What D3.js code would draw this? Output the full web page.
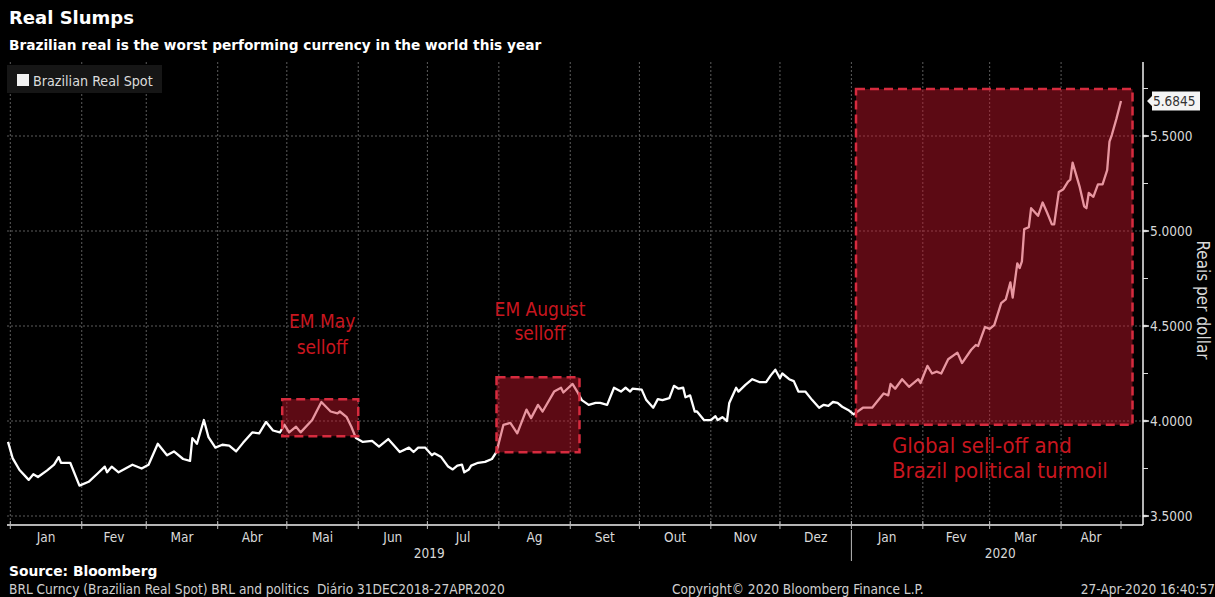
<!DOCTYPE html>
<html lang="en">
<head>
    <meta charset="UTF-8">
    <title>Real Slumps</title>
    <script src="https://d3js.org/d3.v7.min.js"></script>
    <style>
        body {
            margin: 0;
            background: #000;
        }
        svg text {
            font-family: "DejaVu Sans Condensed", "DejaVu Sans", sans-serif;
        }
        .title {
            font-family: "DejaVu Sans", sans-serif !important;
            font-weight: bold;
            fill: #fff;
        }
        .grid line {
            stroke: #5c5c5c;
            stroke-dasharray: 2,2;
        }
        .tick-label {
            fill: #d9d9d9;
            font-size: 13.5px;
        }
        .note {
            fill: #c8161f;
        }
        .foot {
            fill: #cfcfcf;
            font-size: 13.6px;
            white-space: pre;
        }
    </style>
</head>
<body>
    <div id="chart"></div>
    <script>
        // BRL spot
        const dates = [
            "2018-12-31","2019-01-02","2019-01-05","2019-01-09","2019-01-11","2019-01-13","2019-01-17","2019-01-20",
            "2019-01-22","2019-01-23","2019-01-27","2019-01-31","2019-02-04","2019-02-08","2019-02-11","2019-02-12",
            "2019-02-14","2019-02-17","2019-02-20","2019-02-23","2019-02-27","2019-03-02","2019-03-06","2019-03-10",
            "2019-03-13","2019-03-17","2019-03-20","2019-03-21","2019-03-23","2019-03-26","2019-03-28","2019-03-31",
            "2019-04-03","2019-04-06","2019-04-09","2019-04-12","2019-04-16","2019-04-19","2019-04-22","2019-04-25",
            "2019-04-28","2019-04-30","2019-05-02","2019-05-05","2019-05-07","2019-05-12","2019-05-16","2019-05-20",
            "2019-05-23","2019-05-24","2019-05-27","2019-05-29","2019-05-31","2019-06-03","2019-06-07","2019-06-10",
            "2019-06-14","2019-06-17","2019-06-19","2019-06-23","2019-06-25","2019-06-27","2019-06-30","2019-07-03",
            "2019-07-04","2019-07-07","2019-07-10","2019-07-12","2019-07-14","2019-07-16","2019-07-17","2019-07-19",
            "2019-07-20","2019-07-23","2019-07-26","2019-07-29","2019-07-31","2019-08-03","2019-08-06","2019-08-09",
            "2019-08-13","2019-08-15","2019-08-18","2019-08-20","2019-08-25","2019-08-28","2019-08-29","2019-09-02",
            "2019-09-04","2019-09-06","2019-09-09","2019-09-12","2019-09-14","2019-09-17","2019-09-20","2019-09-23",
            "2019-09-25","2019-09-27","2019-09-28","2019-10-02","2019-10-04","2019-10-07","2019-10-09","2019-10-11",
            "2019-10-14","2019-10-16","2019-10-18","2019-10-20","2019-10-21","2019-10-23","2019-10-25","2019-10-26",
            "2019-10-29","2019-11-01","2019-11-03","2019-11-04","2019-11-06","2019-11-08","2019-11-09","2019-11-12",
            "2019-11-13","2019-11-16","2019-11-19","2019-11-22","2019-11-25","2019-11-27","2019-11-29","2019-12-01",
            "2019-12-02","2019-12-05","2019-12-07","2019-12-09","2019-12-12","2019-12-15","2019-12-18","2019-12-20",
            "2019-12-22","2019-12-24","2019-12-26","2019-12-28","2019-12-31","2020-01-02","2020-01-06","2020-01-10",
            "2020-01-12","2020-01-15","2020-01-17","2020-01-18","2020-01-20","2020-01-23","2020-01-26","2020-01-30",
            "2020-01-31","2020-02-03","2020-02-05","2020-02-07","2020-02-09","2020-02-12","2020-02-16","2020-02-18",
            "2020-02-22","2020-02-24","2020-02-25","2020-02-28","2020-03-01","2020-03-03","2020-03-06","2020-03-08",
            "2020-03-10","2020-03-11","2020-03-13","2020-03-14","2020-03-15","2020-03-16","2020-03-18","2020-03-19",
            "2020-03-22","2020-03-24","2020-03-26","2020-03-28","2020-03-29","2020-03-31","2020-04-02","2020-04-04",
            "2020-04-05","2020-04-06","2020-04-09","2020-04-11","2020-04-12","2020-04-13","2020-04-15","2020-04-17",
            "2020-04-19","2020-04-21","2020-04-22","2020-04-23","2020-04-25","2020-04-27"
        ];
        const brl = [
            3.890,3.805,3.742,3.690,3.720,3.705,3.740,3.770,
            3.810,3.780,3.780,3.660,3.680,3.725,3.760,3.730,
            3.760,3.730,3.750,3.770,3.750,3.770,3.880,3.820,
            3.840,3.800,3.790,3.910,3.880,4.005,3.915,3.860,
            3.875,3.870,3.840,3.885,3.940,3.935,3.995,3.950,
            3.940,3.980,3.940,3.970,3.940,4.005,4.100,4.050,
            4.040,4.050,4.020,3.970,3.910,3.890,3.895,3.865,
            3.905,3.865,3.837,3.860,3.837,3.860,3.860,3.820,
            3.830,3.810,3.760,3.745,3.765,3.770,3.730,3.745,
            3.765,3.780,3.785,3.800,3.837,3.980,3.990,3.935,
            4.060,4.015,4.085,4.050,4.155,4.175,4.150,4.195,
            4.155,4.110,4.085,4.095,4.095,4.085,4.175,4.155,
            4.175,4.155,4.170,4.165,4.110,4.070,4.115,4.110,
            4.120,4.185,4.170,4.175,4.125,4.135,4.050,4.050,
            4.005,4.005,4.025,4.005,4.020,4.000,4.095,4.175,
            4.155,4.190,4.220,4.205,4.205,4.240,4.270,4.225,
            4.250,4.220,4.210,4.155,4.155,4.110,4.070,4.085,
            4.080,4.100,4.095,4.075,4.055,4.035,4.070,4.070,
            4.100,4.145,4.135,4.195,4.170,4.220,4.180,4.220,
            4.200,4.290,4.250,4.260,4.250,4.325,4.360,4.305,
            4.375,4.400,4.395,4.495,4.485,4.505,4.620,4.640,
            4.730,4.650,4.830,4.805,4.840,5.010,5.020,5.120,
            5.080,5.150,5.095,5.035,5.035,5.205,5.220,5.260,
            5.270,5.360,5.235,5.130,5.120,5.200,5.180,5.245,
            5.245,5.320,5.470,5.505,5.590,5.6845
        ];

        const monthNames = ["Jan","Fev","Mar","Abr","Mai","Jun","Jul","Ag","Set","Out","Nov","Dez"];
        const yTicks = [3.5, 4.0, 4.5, 5.0, 5.5];
        const yMinor = [3.75, 4.25, 4.75, 5.25, 5.75];
        const years = [2019, 2020];

        // shaded episodes
        const boxStart = ["2019-04-29", "2019-07-31", "2020-01-03"];
        const boxEnd   = ["2019-06-01", "2019-09-05", "2020-05-02"];
        const boxHigh  = [4.115, 4.23, 5.747];
        const boxLow   = [3.92, 3.835, 3.98];
        const boxNotes = [["EM May", "selloff"], ["EM August", "selloff"],
                          ["Global sell-off and", "Brazil political turmoil"]];

        const parse = d3.timeParse("%Y-%m-%d");
        const data = dates.map((d, i) => ({date: parse(d), value: brl[i]}));

        const W = 1215, H = 597;
        const svg = d3.select("#chart").append("svg")
            .attr("width", W)
            .attr("height", H);

        svg.append("rect").attr("width", W).attr("height", H).attr("fill", "#000");

        const x = d3.scaleTime()
            .domain([parse("2018-12-31"), parse("2020-04-27")])
            .range([8, 1121]);
        const y = d3.scaleLinear()
            .domain([3.5, 5.5])
            .range([516, 136]);

        const plotLeft = 7, plotRight = 1143, plotTop = 62, plotBottom = 525;

        // titles
        svg.append("text").attr("class", "title")
            .attr("x", 9).attr("y", 24)
            .style("font-size", "18px")
            .text("Real Slumps");
        svg.append("text").attr("class", "title")
            .attr("x", 9).attr("y", 50)
            .style("font-size", "13.7px")
            .text("Brazilian real is the worst performing currency in the world this year");

        // grid
        const months = d3.timeMonth.range(parse("2019-01-01"), parse("2020-04-02"));
        const grid = svg.append("g").attr("class", "grid");
        grid.selectAll(".v").data(months).enter().append("line")
            .attr("x1", d => x(d)).attr("x2", d => x(d))
            .attr("y1", plotTop).attr("y2", plotBottom);
        grid.selectAll(".h").data(yTicks).enter().append("line")
            .attr("x1", plotLeft).attr("x2", plotRight)
            .attr("y1", d => y(d)).attr("y2", d => y(d));

        // legend
        svg.append("rect").attr("x", 7).attr("y", 65).attr("width", 155).attr("height", 28).attr("fill", "#161616");
        svg.append("rect").attr("x", 17).attr("y", 74).attr("width", 12).attr("height", 12).attr("fill", "#f2f2f2");
        svg.append("text").attr("x", 33).attr("y", 85.5)
            .attr("fill", "#dcdcdc").style("font-size", "14.2px")
            .text("Brazilian Real Spot");

        // line
        const line = d3.line()
            .x(d => x(d.date))
            .y(d => y(d.value));
        svg.append("path")
            .datum(data)
            .attr("fill", "none")
            .attr("stroke", "#fff")
            .attr("stroke-width", 2.3)
            .attr("stroke-linejoin", "round")
            .attr("d", line);

        // shaded boxes on top of the line
        boxStart.forEach((s, i) => {
            const x0 = x(parse(s)), x1 = x(parse(boxEnd[i]));
            const y0 = y(boxHigh[i]), y1 = y(boxLow[i]);
            svg.append("rect")
                .attr("x", x0).attr("y", y0)
                .attr("width", x1 - x0).attr("height", y1 - y0)
                .attr("fill", "rgba(205,22,45,0.45)")
                .attr("stroke", "#d62b3e")
                .attr("stroke-width", 2.5)
                .attr("stroke-dasharray", "9,5");
        });

        // annotations
        const notePos = [
            {cx: true, dy: [-71, -45], size: 19},
            {cx: true, dy: [-61, -37], size: 19},
            {cx: false, dy: [0, 0], size: 22}
        ];
        boxNotes.forEach((lines, i) => {
            const x0 = x(parse(boxStart[i])), x1 = x(parse(boxEnd[i]));
            const yt = y(boxHigh[i]), yb = y(boxLow[i]);
            lines.forEach((t, j) => {
                const el = svg.append("text").attr("class", "note")
                    .style("font-size", notePos[i].size + "px").text(t);
                if (notePos[i].cx) {
                    el.attr("x", (x0 + x1) / 2 + 2).attr("y", yt + notePos[i].dy[j])
                      .attr("text-anchor", "middle");
                } else {
                    el.attr("x", x0 + 36).attr("y", yb + 28 + j * 25);
                }
            });
        });

        // bottom axis
        svg.append("line")
            .attr("x1", plotLeft).attr("x2", plotRight)
            .attr("y1", plotBottom).attr("y2", plotBottom)
            .attr("stroke", "#f0f0f0").attr("stroke-width", 1.5);
        svg.selectAll(".xt").data(months.concat([x.domain()[1]])).enter().append("line")
            .attr("x1", d => x(d)).attr("x2", d => x(d))
            .attr("y1", plotBottom - 4).attr("y2", plotBottom + 4)
            .attr("stroke", "#bbb");
        svg.selectAll(".xl").data(months).enter().append("text")
            .attr("class", "tick-label")
            .attr("text-anchor", "middle")
            .attr("x", d => {
                const next = d3.min([d3.timeMonth.offset(d, 1), x.domain()[1]]);
                return (x(d) + x(next)) / 2;
            })
            .attr("y", 542)
            .text(d => monthNames[d.getMonth()]);

        // years
        const yearSplit = x(parse("2020-01-01"));
        svg.append("line")
            .attr("x1", yearSplit).attr("x2", yearSplit)
            .attr("y1", 530).attr("y2", 561)
            .attr("stroke", "#bbb");
        svg.selectAll(".yr").data(years).enter().append("text")
            .attr("class", "tick-label")
            .attr("text-anchor", "middle")
            .attr("x", d => d === 2019 ? (plotLeft + yearSplit) / 2 : (yearSplit + plotRight) / 2 + 3)
            .attr("y", 558)
            .text(d => d);

        // right axis
        svg.append("line")
            .attr("x1", plotRight).attr("x2", plotRight)
            .attr("y1", plotTop).attr("y2", plotBottom)
            .attr("stroke", "#f0f0f0").attr("stroke-width", 1.5);
        svg.selectAll(".ym").data(yMinor).enter().append("line")
            .attr("x1", plotRight).attr("x2", plotRight + 5)
            .attr("y1", d => y(d)).attr("y2", d => y(d))
            .attr("stroke", "#ddd");
        svg.selectAll(".ya").data(yTicks).enter().append("path")
            .attr("d", d => `M${plotRight},${y(d) - 0.7}h3l3,0.7l-3,0.7h-3z`)
            .attr("fill", "#eee").attr("stroke", "#eee").attr("stroke-width", 0.8);
        svg.selectAll(".yl").data(yTicks).enter().append("text")
            .attr("class", "tick-label")
            .attr("x", plotRight + 7).attr("y", d => y(d) + 5)
            .text(d => d3.format(".4f")(d));

        svg.append("text")
            .attr("transform", "translate(1197,300) rotate(90)")
            .attr("text-anchor", "middle")
            .attr("fill", "#d9d9d9").style("font-size", "17px")
            .text("Reais per dollar");

        // last value tag
        const last = data[data.length - 1];
        const ly = y(last.value);
        svg.append("path")
            .attr("d", `M${plotRight + 4},${ly}l5,-5v-4.5h48v19h-48v-4.5z`)
            .attr("fill", "#f4f4f4");
        svg.append("text")
            .attr("x", plotRight + 10).attr("y", ly + 5)
            .attr("fill", "#333").style("font-size", "13.5px")
            .text(d3.format(".4f")(last.value));

        // footer
        svg.append("text").attr("x", 9).attr("y", 576)
            .attr("fill", "#fff").style("font-weight", "bold").style("font-size", "13.8px")
            .style("font-family", "DejaVu Sans, sans-serif")
            .text("Source: Bloomberg");
        svg.append("text").attr("class", "foot").attr("x", 9).attr("y", 594)
            .text("BRL Curncy (Brazilian Real Spot) BRL and politics  Diário 31DEC2018-27APR2020");
        svg.append("text").attr("class", "foot").attr("x", 672).attr("y", 594)
            .text("Copyright© 2020 Bloomberg Finance L.P.");
        svg.append("text").attr("class", "foot").attr("x", 1215).attr("y", 594)
            .attr("text-anchor", "end")
            .text("27-Apr-2020 16:40:57");
    </script>
</body>
</html>
